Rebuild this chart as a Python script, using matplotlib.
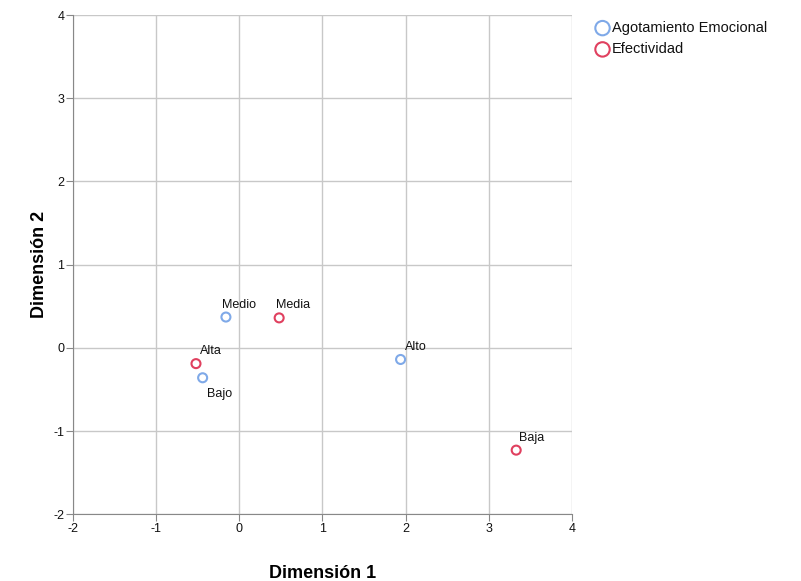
import numpy as np
import matplotlib.pyplot as plt

# ---- data ----
agot_labels = ["Medio", "Bajo", "Alto"]
agot_x = [-0.16, -0.44, 1.94]
agot_y = [0.37, -0.36, -0.14]

efec_labels = ["Media", "Alta", "Baja"]
efec_x = [0.48, -0.52, 3.33]
efec_y = [0.36, -0.19, -1.23]

# label offsets in points (dx, dy)
offsets = {"Medio": (-3, 9), "Bajo": (3, -12), "Alto": (3, 9),
           "Media": (-2, 9), "Alta": (3, 9), "Baja": (2, 9)}

blue = "#7FA9E8"
red = "#E0405F"

plt.rcParams['font.family'] = ['Liberation Sans', 'DejaVu Sans']
plt.rcParams['axes.unicode_minus'] = False

fig = plt.figure(figsize=(8.01, 5.81), dpi=100)
ax = fig.add_axes([0.091, 0.115, 0.623, 0.859])

ax.scatter(agot_x, agot_y, s=42, facecolors="none", edgecolors=blue,
           linewidths=1.5, zorder=3, label="Agotamiento Emocional")
ax.scatter(efec_x, efec_y, s=42, facecolors="none", edgecolors=red,
           linewidths=1.5, zorder=3, label="Efectividad")

for lab, x, y in zip(agot_labels + efec_labels, agot_x + efec_x, agot_y + efec_y):
    dx, dy = offsets[lab]
    ax.annotate(lab, (x, y), xytext=(dx, dy), textcoords="offset points",
                fontsize=9, color="#111111", va="center", ha="left")

ax.set_xlim(-2, 4)
ax.set_ylim(-2, 4)
ax.set_xticks(np.arange(-2, 5, 1))
ax.set_yticks(np.arange(-2, 5, 1))
ax.grid(True, color="#c8c8c8", linewidth=1)
ax.set_axisbelow(True)
for s in ["top", "right"]:
    ax.spines[s].set_visible(False)
for s in ["left", "bottom"]:
    ax.spines[s].set_color("#888888")
ax.tick_params(labelsize=9, length=5, color="#888888", labelcolor="#111111", pad=1)

ax.set_xlabel("Dimensión 1", fontsize=13, fontweight="bold", labelpad=22)
ax.set_ylabel("Dimensión 2", fontsize=13, fontweight="bold", labelpad=4)

leg = fig.legend(loc="upper left", bbox_to_anchor=(0.734, 0.974), frameon=False,
                 fontsize=10.5, handletextpad=0.05, borderaxespad=0, labelspacing=0.5,
                 markerscale=1.6, handlelength=1.2)
for t in leg.get_texts():
    t.set_color("#111111")

fig.savefig("out.png", dpi=100)
